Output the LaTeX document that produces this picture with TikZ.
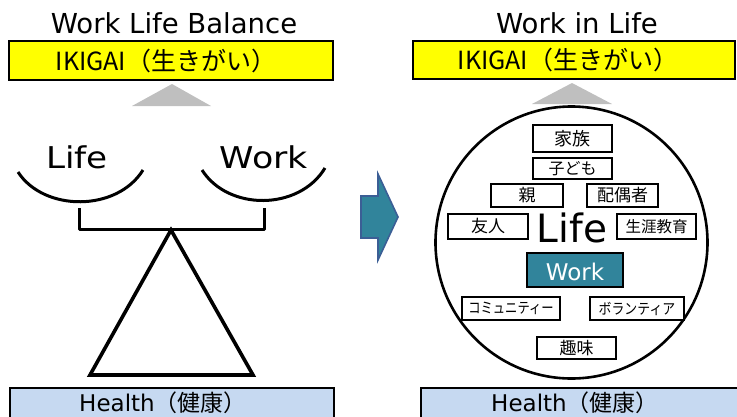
\documentclass[tikz,border=0pt]{standalone}
\usepackage{fontspec}
\setmainfont{DejaVu Sans}
\newfontfamily\jp{Noto Sans CJK JP}
\definecolor{ikiyellow}{HTML}{FFFF00}
\definecolor{healthblue}{HTML}{C6D9F1}
\definecolor{teal}{HTML}{31849B}
\definecolor{arrowedge}{HTML}{3B5E95}
\definecolor{tgray}{HTML}{BFBFBF}
\tikzset{
  fs/.style={font=\fontsize{#1}{#1}\selectfont},
  jfs/.style={font=\jp\fontsize{#1}{#1}\selectfont},
  bandbox/.style={draw=black, line width=1.8pt, inner sep=0pt},
  itembox/.style={draw=black, line width=1.5pt, fill=white, inner sep=0pt},
  strokeline/.style={line width=3pt, line join=round},
}
\begin{document}
\begin{tikzpicture}[x=1pt,y=-1pt]
\useasboundingbox (0,0) rectangle (737,416);

% ---------- left: Work Life Balance ----------
\node[fs=27.5, anchor=base] (titleL) at (174,33) {Work Life Balance};
\node[bandbox, fill=ikiyellow, minimum width=324pt, minimum height=39pt] (ikiL) at (171,60.5) {};
\node[jfs=25, anchor=base] (ikiLt) at (166,70) {IKIGAI（生きがい）};
\fill[tgray] (172,84) -- (211,106) -- (132,106) -- cycle;

\node[fs=30, anchor=base] (lifeL) at (77,168) {\scalebox{1.14}[1]{Life}};
\node[fs=30, anchor=base] (workL) at (264,168) {\scalebox{1.16}[1]{Work}};
\draw[strokeline] (18,172) .. controls (44,212) and (117,212) .. (143,170);
\draw[strokeline] (202,170) .. controls (228,211) and (299,211) .. (325,168);
\draw[strokeline] (79,208) -- (79,229) -- (264,229) -- (264,208);
\draw[line width=3.6pt, line join=miter] (171,230) -- (253,375) -- (90,375) -- cycle;

\node[bandbox, fill=healthblue, minimum width=324pt, minimum height=40pt, anchor=north west] (healthL) at (9,387) {};
\node[fs=23, anchor=base] (healthLt) at (163,411) {Health{\jp （健康）}};

% ---------- arrow ----------
\filldraw[fill=teal, draw=arrowedge, line width=1.6pt, line join=miter]
  (361,196) -- (378,196) -- (378,174) -- (398,217) -- (378,260) -- (378,238) -- (361,238) -- cycle;

% ---------- right: Work in Life ----------
\node[fs=27.5, anchor=base] (titleR) at (577,33) {Work in Life};
\node[bandbox, fill=ikiyellow, minimum width=322pt, minimum height=38pt] (ikiR) at (574,60) {};
\node[jfs=25, anchor=base] (ikiRt) at (568,69.5) {IKIGAI（生きがい）};
\fill[tgray] (572,83) -- (612,104) -- (532,104) -- cycle;

\node[circle, draw=black, line width=2.6pt, minimum size=272pt, inner sep=0pt] (lifecircle) at (571.5,242.5) {};

\node[itembox, jfs=18, minimum width=79pt, minimum height=27pt] (kazoku) at (572.5,138.5) {家族};
\node[itembox, jfs=16, minimum width=79pt, minimum height=21pt] (kodomo) at (572.5,168.5) {子ども};
\node[itembox, jfs=17, minimum width=72pt, minimum height=23pt] (oya) at (527,195.5) {親};
\node[itembox, jfs=17, minimum width=71pt, minimum height=23pt] (haiguusha) at (622.5,195.5) {配偶者};
\node[itembox, jfs=17, minimum width=80pt, minimum height=25pt] (yuujin) at (488,226.5) {友人};
\node[itembox, jfs=15.5, minimum width=79pt, minimum height=25pt] (shougai) at (656.5,226.5) {生涯教育};
\node[fs=39, anchor=base] (lifeR) at (572,242) {Life};
\node[draw=black, line width=1.5pt, fill=teal, inner sep=0pt, minimum width=96pt, minimum height=34pt] (workbox) at (575,270) {};
\node[fs=23, anchor=base, text=white] (workR) at (575,280) {Work};
\node[itembox, jfs=15, minimum width=98pt, minimum height=23pt] (community) at (511,308.5) {\scalebox{0.82}[1]{コミュニティー}};
\node[itembox, jfs=15, minimum width=94pt, minimum height=23pt] (volunteer) at (637,308.5) {\scalebox{0.86}[1]{ボランティア}};
\node[itembox, jfs=17, minimum width=79pt, minimum height=22pt] (shumi) at (576.5,348) {趣味};

\node[bandbox, fill=healthblue, minimum width=330pt, minimum height=40pt, anchor=north west] (healthR) at (420,387) {};
\node[fs=23, anchor=base] (healthRt) at (575,411) {Health{\jp （健康）}};
\end{tikzpicture}
\end{document}
